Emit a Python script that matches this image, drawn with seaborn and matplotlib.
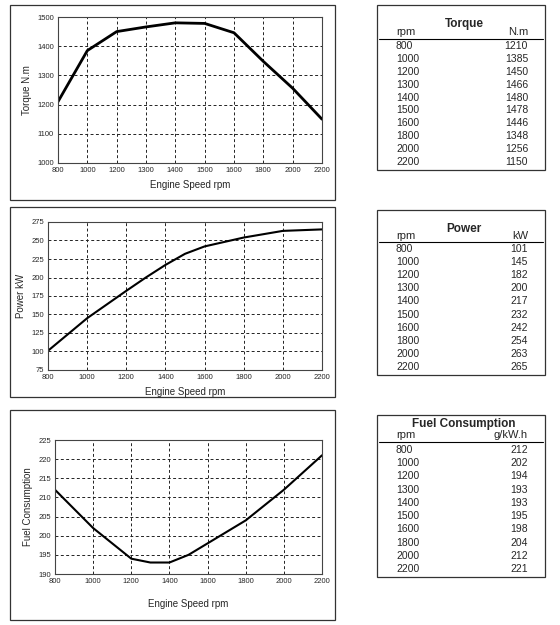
import matplotlib
matplotlib.use("Agg")
import matplotlib.pyplot as plt
import seaborn as sns
import pandas as pd

# data from the curves / tables
rpm = [800, 1000, 1200, 1300, 1400, 1500, 1600, 1800, 2000, 2200]
torque = [1210, 1385, 1450, 1466, 1480, 1478, 1446, 1348, 1256, 1150]
power = [101, 145, 182, 200, 217, 232, 242, 254, 263, 265]
fuel = [212, 202, 194, 193, 193, 195, 198, 204, 212, 221]

W, H = 560, 625
sns.set_theme(style="white")
plt.rcParams["font.family"] = ["Liberation Sans", "DejaVu Sans"]

fig = plt.figure(figsize=(W / 100, H / 100), dpi=100)


def rect(x0, y0, x1, y1):
    return [x0 / W, 1 - y1 / H, (x1 - x0) / W, (y1 - y0) / H]


# overlay for the boxes and tables
bg = fig.add_axes([0, 0, 1, 1], zorder=0)
bg.set_xlim(0, W)
bg.set_ylim(H, 0)
bg.axis("off")
for x0, y0, x1, y1 in [(10, 5, 335, 200), (10, 207, 335, 397), (10, 410, 335, 620),
                       (377, 5, 545, 170), (377, 210, 545, 375), (377, 415, 545, 577)]:
    bg.add_patch(plt.Rectangle((x0, y0), x1 - x0, y1 - y0, fill=False, lw=0.9, ec="#333333"))


def table(title, unit, vals, ty, hy, ly, r0, r1):
    bg.text(464, ty, title, ha="center", va="center", fontsize=8.5, fontweight="bold")
    bg.text(396, hy, "rpm", ha="left", va="center", fontsize=8)
    bg.text(528, hy, unit, ha="right", va="center", fontsize=8)
    bg.plot([379, 543], [ly, ly], color="black", lw=0.8)
    step = (r1 - r0) / (len(vals) - 1)
    for i, (r, v) in enumerate(zip(rpm, vals)):
        y = r0 + i * step
        bg.text(396, y, str(r), ha="left", va="center", fontsize=7.5)
        bg.text(528, y, str(v), ha="right", va="center", fontsize=7.5)


table("Torque", "N.m", torque, 24, 32, 39, 46, 162)
table("Power", "kW", power, 229, 236, 242, 249, 367)
table("Fuel Consumption", "g/kW.h", fuel, 424, 435, 442, 450, 569)


def style(ax, ylabel):
    ax.grid(True, ls=(0, (3, 2.5)), color="#222222", lw=0.7)
    for s in ax.spines.values():
        s.set_color("#444444")
        s.set_linewidth(0.8)
    ax.tick_params(labelsize=5.5, length=0, pad=3)
    ax.set_xlabel("Engine Speed rpm", fontsize=7)
    ax.set_ylabel(ylabel, fontsize=7)
    ax.set_facecolor("white")


# torque: equally spaced categories
ax1 = fig.add_axes(rect(58, 17, 322, 163), zorder=1)
df1 = pd.DataFrame({"pos": range(len(rpm)), "torque": torque})
sns.lineplot(data=df1, x="pos", y="torque", color="black", lw=2, ax=ax1)
ax1.set_xlim(0, len(rpm) - 1)
ax1.set_xticks(range(len(rpm)))
ax1.set_xticklabels([str(r) for r in rpm])
ax1.set_ylim(1000, 1500)
ax1.set_yticks(range(1000, 1501, 100))
style(ax1, "Torque N.m")

ax2 = fig.add_axes(rect(48, 222, 322, 370), zorder=1)
sns.lineplot(x=rpm, y=power, color="black", lw=1.5, ax=ax2)
ax2.set_xlim(800, 2200)
ax2.set_xticks(range(800, 2201, 200))
ax2.set_ylim(75, 275)
ax2.set_yticks(range(75, 276, 25))
style(ax2, "Power kW")

ax3 = fig.add_axes(rect(55, 440, 322, 574), zorder=1)
sns.lineplot(x=rpm, y=fuel, color="black", lw=1.5, ax=ax3)
ax3.set_xlim(800, 2200)
ax3.set_xticks(range(800, 2201, 200))
ax3.set_ylim(190, 225)
ax3.set_yticks(range(190, 226, 5))
style(ax3, "Fuel Consumption")
ax3.xaxis.labelpad = 10

fig.savefig("out.png", dpi=100)
